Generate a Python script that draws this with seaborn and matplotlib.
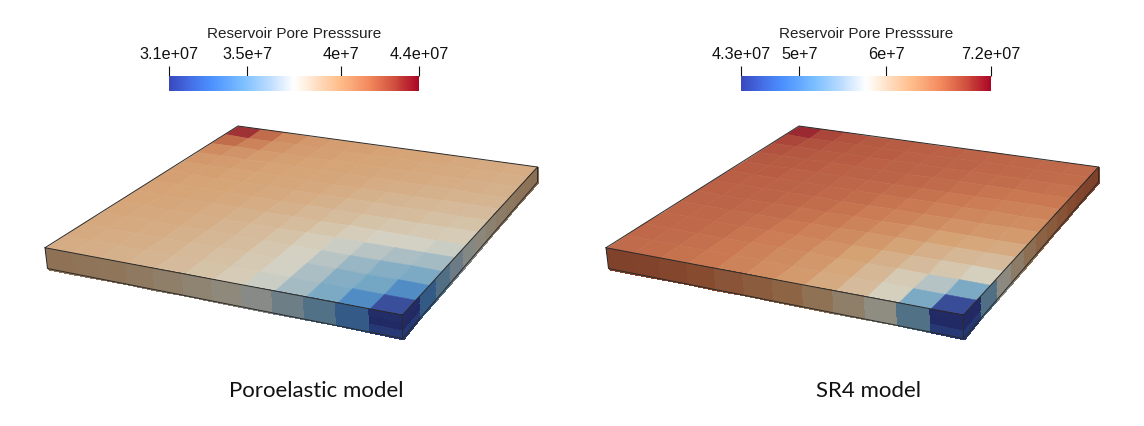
import numpy as np
import matplotlib
matplotlib.use("Agg")
import matplotlib.pyplot as plt
from matplotlib.colors import LinearSegmentedColormap, ListedColormap
from matplotlib.transforms import Transform
import seaborn as sns

# pressure per grid cell, 1e6 Pa. row 0 = back->left edge, col 0 = back->right edge
poro_pressure = [
    [43.6, 42.0, 40.8, 40.3, 40.1, 40.0, 39.9, 39.8, 39.7, 39.6, 39.5, 39.4],
    [42.0, 41.2, 40.5, 40.2, 40.0, 39.9, 39.8, 39.7, 39.6, 39.5, 39.4, 39.3],
    [40.8, 40.5, 40.2, 40.0, 39.9, 39.8, 39.7, 39.6, 39.5, 39.4, 39.3, 39.2],
    [40.3, 40.2, 40.0, 39.9, 39.8, 39.7, 39.6, 39.4, 39.3, 39.2, 39.1, 39.0],
    [40.1, 40.0, 39.9, 39.8, 39.7, 39.6, 39.4, 39.2, 39.0, 38.9, 38.8, 38.7],
    [40.0, 39.9, 39.8, 39.7, 39.6, 39.4, 39.2, 38.9, 38.7, 38.6, 38.4, 38.3],
    [39.9, 39.8, 39.7, 39.6, 39.4, 39.2, 38.9, 38.6, 38.3, 38.1, 38.0, 37.9],
    [39.8, 39.7, 39.6, 39.4, 39.2, 38.9, 38.6, 38.2, 37.8, 37.6, 37.4, 37.2],
    [39.7, 39.6, 39.5, 39.3, 39.0, 38.7, 38.3, 37.8, 37.2, 36.8, 36.5, 36.3],
    [39.6, 39.5, 39.4, 39.2, 38.9, 38.6, 38.1, 37.6, 36.8, 36.0, 35.5, 35.2],
    [39.5, 39.4, 39.3, 39.1, 38.8, 38.4, 38.0, 37.4, 36.5, 35.5, 35.0, 33.6],
    [39.4, 39.3, 39.2, 39.0, 38.7, 38.3, 37.9, 37.2, 36.3, 35.2, 33.6, 31.0],
]
sr4_pressure = [
    [71.2, 69.6, 68.9, 68.5, 68.3, 68.1, 68.0, 67.8, 67.7, 67.6, 67.5, 67.4],
    [69.6, 69.0, 68.6, 68.4, 68.2, 68.0, 67.9, 67.8, 67.6, 67.5, 67.3, 67.2],
    [68.9, 68.6, 68.4, 68.2, 68.0, 67.9, 67.8, 67.6, 67.4, 67.2, 67.0, 66.9],
    [68.5, 68.4, 68.2, 68.0, 67.9, 67.8, 67.6, 67.3, 67.0, 66.7, 66.5, 66.4],
    [68.3, 68.2, 68.0, 67.9, 67.7, 67.5, 67.2, 66.9, 66.5, 66.1, 65.8, 65.6],
    [68.1, 68.0, 67.9, 67.8, 67.5, 67.2, 66.8, 66.3, 65.8, 65.3, 64.9, 64.7],
    [68.0, 67.9, 67.8, 67.6, 67.2, 66.8, 66.2, 65.6, 64.9, 64.2, 63.8, 63.5],
    [67.8, 67.8, 67.6, 67.3, 66.9, 66.3, 65.6, 64.7, 63.8, 62.9, 62.3, 62.0],
    [67.7, 67.6, 67.4, 67.0, 66.5, 65.8, 64.9, 63.8, 62.6, 61.4, 60.6, 60.2],
    [67.6, 67.5, 67.2, 66.7, 66.1, 65.3, 64.2, 62.9, 61.4, 60.2, 59.0, 58.0],
    [67.5, 67.3, 67.0, 66.5, 65.8, 64.9, 63.8, 62.3, 60.6, 58.6, 56.0, 52.8],
    [67.4, 67.2, 66.9, 66.4, 65.6, 64.7, 63.5, 62.0, 60.2, 58.0, 52.8, 43.5],
]
# lower-layer pressure at the front corner column, 1e6 Pa
poro_corner_layers = [31.0, 30.8, 31.6]
sr4_corner_layers = [43.5, 43.3, 45.0]
poro_limits = [30.8, 44.2]
sr4_limits = [43.3, 72.0]
poro_ticks = [30.8, 35.0, 40.0, 44.2]
sr4_ticks = [43.3, 50.0, 60.0, 72.0]
poro_ticklabels = ["3.1e+07", "3.5e+7", "4e+7", "4.4e+07"]
sr4_ticklabels = ["4.3e+07", "5e+7", "6e+7", "7.2e+07"]
bar_title = "Reservoir Pore Presssure"
captions = ["Poroelastic model", "SR4 model"]

W, H = 1144, 426
N_LAYERS = 3

# colour ramp
ramp_cmap = LinearSegmentedColormap.from_list("ramp", [
    (0.00, (58/255, 72/255, 190/255)),
    (0.08, (68/255, 108/255, 228/255)),
    (0.17, (76/255, 146/255, 255/255)),
    (0.30, (125/255, 192/255, 255/255)),
    (0.42, (200/255, 226/255, 255/255)),
    (0.50, (255/255, 255/255, 255/255)),
    (0.56, (255/255, 234/255, 214/255)),
    (0.68, (255/255, 190/255, 140/255)),
    (0.80, (243/255, 138/255, 94/255)),
    (0.90, (208/255, 80/255, 62/255)),
    (1.00, (172/255, 6/255, 38/255)),
])


def shaded(factor, lift=(0, 0, 0)):
    rgb = ramp_cmap(np.linspace(0, 1, 256))[:, :3] * np.array(factor) + np.array(lift)
    return ListedColormap(np.clip(rgb, 0, 1))


class QuadTransform(Transform):
    # maps heatmap cell coords to figure pixels, with perspective
    input_dims = 2
    output_dims = 2
    is_separable = False
    has_inverse = False

    def __init__(self, nx, ny, corners):
        super().__init__()
        src = [(0, 0), (nx, 0), (nx, ny), (0, ny)]
        a, b = [], []
        for (x, y), (u, v) in zip(src, corners):
            a.append([x, y, 1, 0, 0, 0, -u * x, -u * y])
            a.append([0, 0, 0, x, y, 1, -v * x, -v * y])
            b.extend([u, v])
        self.m = np.append(np.linalg.solve(np.array(a, float), np.array(b, float)), 1).reshape(3, 3)

    def transform_non_affine(self, values):
        values = np.asarray(values, float)
        p = np.c_[values, np.ones(len(values))] @ self.m.T
        return np.c_[p[:, 0] / p[:, 2], H - p[:, 1] / p[:, 2]]


def draw_block(ax, pressure, corner_layers, limits, dx):
    grid = np.array(pressure)
    n = grid.shape[0]
    back, right, front, left = (238 + dx, 126), (537.5 + dx, 167), (402.5 + dx, 315), (45 + dx, 247.7)
    front_b, right_b, left_b = (402.5 + dx, 338.5), (537.5 + dx, 182), (47.5 + dx, 268.5)

    top_tr = QuadTransform(n, n, [back, right, front, left])
    front_tr = QuadTransform(n, N_LAYERS, [left, front, front_b, left_b])
    side_tr = QuadTransform(n, N_LAYERS, [right, front, front_b, right_b])

    front_vals = np.tile(grid[-1, :], (N_LAYERS, 1))
    side_vals = np.tile(grid[:, -1], (N_LAYERS, 1))
    front_vals[:, -1] = corner_layers
    side_vals[:, -1] = corner_layers

    faces = [
        (grid, top_tr, shaded((0.80, 0.74, 0.70), (0.035, 0.085, 0.07)), True),
        (front_vals, front_tr, shaded((0.55, 0.55, 0.53), (0.01, 0.01, 0.0)), False),
        (side_vals, side_tr, shaded((0.54, 0.54, 0.52), (0.01, 0.01, 0.0)), False),
    ]
    for values, tr, cmap, smooth in faces:
        sns.heatmap(values, ax=ax, cmap=cmap, vmin=limits[0], vmax=limits[1],
                    cbar=False, xticklabels=False, yticklabels=False, transform=tr,
                    antialiased=smooth, linewidths=0.4, linecolor="face")

    line = dict(color="#2a2a2a", lw=0.7, solid_capstyle="round")
    ax.plot([0, 0, n, n], [n, 0, 0, n], transform=top_tr, **line)
    ax.plot([0, 0, n, n, 0], [0, N_LAYERS, N_LAYERS, 0, 0], transform=front_tr, **line)
    ax.plot([0, 0, n], [0, N_LAYERS, N_LAYERS], transform=side_tr, **line)


def draw_bar(fig, limits, ticks, ticklabels, x0):
    cax = fig.add_axes([x0 / W, 1 - 90.5 / H, 250 / W, 15 / H])
    ramp = np.linspace(limits[0], limits[1], 256)[None, :]
    sns.heatmap(ramp, ax=cax, cmap=ramp_cmap, cbar=False, yticklabels=False, xticklabels=False)
    pos = [(t - limits[0]) / (limits[1] - limits[0]) * 256 for t in ticks]
    cax.xaxis.tick_top()
    cax.set_xticks(pos)
    cax.set_xticklabels(ticklabels, fontsize=11.7, color="#111111", rotation=0)
    cax.tick_params(axis="x", length=7.5, width=0.8, color="#111111", pad=2.2)
    cax.set_yticks([])
    fig.text((x0 + 125.5) / W, 1 - 38 / H, bar_title, ha="center", va="baseline",
             fontsize=11, color="#222222")


sns.set_theme(style="white")
plt.rcParams["font.family"] = ["Liberation Sans", "DejaVu Sans"]

fig = plt.figure(figsize=(W / 100, H / 100), dpi=100, facecolor="white")
ax = fig.add_axes([0, 0, 1, 1])

draw_block(ax, poro_pressure, poro_corner_layers, poro_limits, 0)
draw_block(ax, sr4_pressure, sr4_corner_layers, sr4_limits, 561)
ax.set_axis_off()

draw_bar(fig, poro_limits, poro_ticks, poro_ticklabels, 169)
draw_bar(fig, sr4_limits, sr4_ticks, sr4_ticklabels, 741)

for label, cx in zip(captions, [316, 869]):
    fig.text(cx / W, 1 - 397 / H, label, ha="center", va="baseline",
             fontsize=16, family="Lato", color="#111111")

fig.savefig("out.png", dpi=100, facecolor="white")
